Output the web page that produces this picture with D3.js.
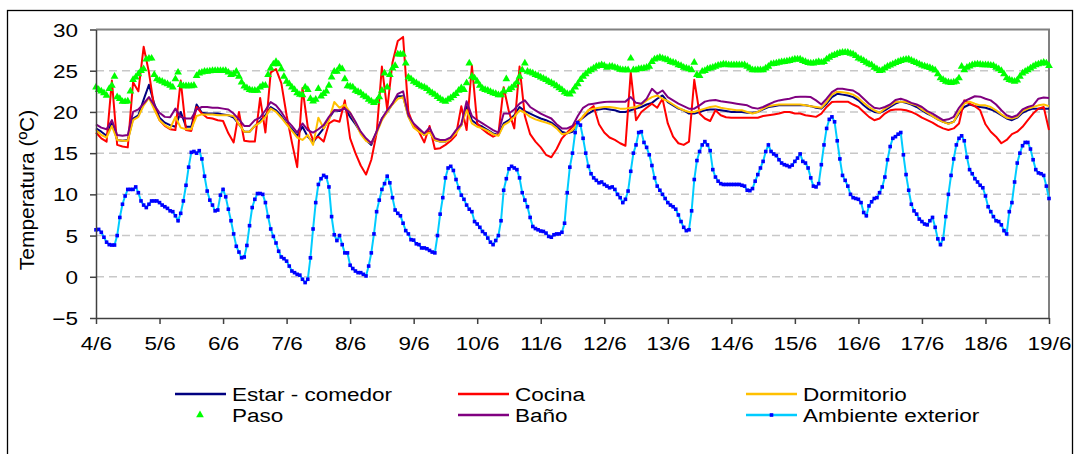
<!DOCTYPE html>
<html>
<head>
<meta charset="utf-8">
<script src="https://cdn.jsdelivr.net/npm/d3@7"></script>
<style>
  body { margin: 0; background: #fff; }
  text { font-family: "Liberation Sans", Arial, sans-serif; fill: #000; }
</style>
</head>
<body>
<svg id="chart" width="1075" height="454"></svg>
<script>
// tick labels
const dias = ["4/6", "5/6", "6/6", "7/6", "8/6", "9/6", "10/6", "11/6", "12/6",
              "13/6", "14/6", "15/6", "16/6", "17/6", "18/6", "19/6"];
const yTicks = [-5, 0, 5, 10, 15, 20, 25, 30];

// hours between readings
const pasoInterior = 2;
const pasoHorario = 1;

// interior rooms, every 2 h from 4/6 00:00
const estarComedor = [
  18.0,17.6,17.1,18.8,16.6,16.5,16.6,19.2,19.6,21.5,
  23.3,21.0,19.3,18.7,18.4,18.2,20.0,18.2,18.2,20.9,
  19.9,19.8,19.8,19.8,19.7,19.6,19.3,18.5,17.6,17.6,
  18.3,18.9,19.6,20.6,20.2,19.5,18.6,17.9,17.1,18.2,
  17.0,16.3,17.2,18.0,19.2,20.2,20.1,20.5,19.4,18.5,
  17.5,16.6,16.0,17.6,19.2,20.0,21.0,21.9,21.9,19.5,
  18.2,17.8,17.2,17.6,16.6,16.4,16.4,16.9,17.6,18.4,
  20.7,19.0,18.5,18.2,17.8,17.4,17.2,18.6,19.0,19.6,
  20.6,20.1,19.8,19.5,19.2,19.0,18.7,18.2,17.6,17.4,
  17.6,18.8,19.3,19.8,20.2,20.3,20.4,20.3,20.2,20.0,
  20.0,20.2,20.4,20.6,20.9,21.1,21.6,22.0,21.2,20.8,
  20.4,20.2,19.8,19.8,20.0,20.2,20.3,20.3,20.2,20.1,
  20.0,20.0,20.0,19.9,19.9,20.0,20.3,20.6,20.7,20.8,
  20.8,20.8,20.8,20.8,20.8,20.7,20.5,20.4,21.0,21.8,
  22.2,22.1,22.0,21.8,21.4,20.8,20.3,20.0,19.9,20.2,
  20.6,21.0,21.25,21.1,20.9,20.6,20.2,19.8,19.5,19.1,
  18.8,18.6,18.8,19.8,20.6,20.9,20.7,20.6,20.5,20.3,
  20.0,19.6,19.2,19.0,19.3,19.9,20.2,20.4,20.4,20.4,20.4
];
const cocina = [
  17.5,16.8,16.4,23.8,16.0,15.8,15.7,23.6,22.5,27.9,
  24.8,20.5,19.0,18.3,17.9,17.8,23.8,17.8,17.7,20.6,
  19.8,19.3,19.2,19.0,18.9,17.4,16.3,20.0,16.5,16.4,
  16.4,21.7,17.5,24.8,25.2,23.5,19.6,16.3,13.3,22.9,
  18.2,16.6,17.0,16.4,18.6,19.0,18.8,21.4,16.8,15.0,
  13.5,12.4,14.2,17.4,25.5,20.3,26.0,28.6,29.1,20.0,
  18.3,17.6,16.3,18.3,15.5,15.6,16.0,16.5,17.2,20.7,
  17.8,25.6,18.6,17.9,17.4,17.0,17.3,23.0,20.0,18.0,
  25.5,19.5,17.3,16.4,15.7,14.8,14.5,15.5,16.8,17.5,
  18.2,18.8,19.4,20.2,20.7,18.5,17.5,16.9,16.6,16.2,
  15.9,24.8,19.0,20.0,20.5,21.0,20.5,21.6,18.6,17.0,
  16.2,16.0,16.4,23.9,19.8,19.2,18.9,20.2,19.6,19.35,
  19.3,19.3,19.3,19.3,19.3,19.3,19.5,19.6,19.7,19.8,
  20.0,20.0,19.8,19.8,19.6,19.5,19.4,19.8,20.6,21.2,
  21.25,21.25,21.25,20.9,20.6,20.0,19.4,19.0,19.2,19.8,
  20.2,20.3,20.3,20.2,20.0,19.7,19.3,19.0,18.7,18.3,
  18.0,17.8,18.0,18.6,21.4,21.0,20.7,20.2,18.5,17.6,
  17.0,16.2,16.6,17.3,17.6,18.2,19.0,19.8,20.4,20.6,17.8
];
const dormitorio = [
  17.8,17.2,16.9,18.3,16.6,16.5,16.5,19.0,19.4,20.8,
  21.7,20.3,19.0,18.4,18.0,19.4,18.1,17.9,17.9,19.5,
  19.7,19.7,19.7,19.6,19.6,19.6,19.5,18.5,17.6,17.6,
  18.3,18.7,19.4,20.4,20.0,19.3,18.5,17.7,16.9,16.6,
  17.2,16.0,19.3,18.0,19.0,21.2,20.5,20.9,19.9,18.7,
  17.3,16.5,16.2,17.4,19.0,20.0,20.9,21.6,21.8,19.4,
  18.1,17.6,17.2,17.5,16.6,16.4,16.4,16.8,17.4,18.4,
  20.2,18.6,18.2,18.0,17.7,17.3,17.1,18.4,18.8,19.4,
  20.2,19.9,19.4,19.1,18.9,18.7,18.5,18.0,17.3,17.4,
  17.8,18.6,19.5,20.2,20.4,20.5,20.6,20.6,20.5,20.4,
  20.4,20.5,20.6,20.9,21.4,21.8,22.0,21.6,21.3,20.9,
  20.5,20.2,20.0,20.0,20.2,20.4,20.6,20.7,20.5,20.4,
  20.3,20.2,20.2,20.0,19.8,20.0,20.4,20.7,20.8,20.9,
  20.9,20.9,20.9,20.9,20.8,20.7,20.6,20.5,21.2,22.1,
  22.45,22.4,22.3,22.1,21.7,21.1,20.6,20.2,19.9,20.4,
  20.8,21.2,21.25,21.2,21.0,20.8,20.3,19.9,19.5,19.1,
  18.8,18.55,18.8,20.0,21.0,21.25,21.0,20.8,20.8,20.6,
  20.2,19.7,19.3,19.2,19.4,20.1,20.4,20.6,20.8,20.9,20.7
];
const bano = [
  18.5,18.1,17.9,19.0,17.2,17.1,17.2,20.0,20.3,21.0,
  21.8,20.8,19.9,19.4,19.35,20.4,19.4,19.2,19.2,20.3,
  20.6,20.6,20.5,20.5,20.4,20.3,19.8,19.1,18.3,18.3,
  19.0,19.3,20.2,21.2,20.8,20.0,19.0,18.3,17.5,18.6,
  17.8,17.5,17.9,18.4,19.4,20.2,20.2,20.4,19.9,18.8,
  17.6,16.8,16.2,17.6,19.2,20.2,21.0,22.2,22.5,19.6,
  18.6,18.0,17.4,18.1,16.8,16.6,16.6,16.9,17.8,18.5,
  21.3,19.5,19.0,18.6,18.2,17.8,17.5,19.8,19.8,20.3,
  21.0,21.4,20.6,20.2,19.8,19.5,19.2,18.5,18.0,18.0,
  18.3,19.5,20.5,20.9,21.0,21.1,21.2,21.25,21.25,21.25,
  21.25,21.8,21.1,21.0,21.6,22.8,22.2,22.6,21.8,21.4,
  21.0,20.7,20.4,20.4,20.8,21.25,21.4,21.45,21.3,21.2,
  21.1,21.0,20.9,20.8,20.5,20.4,20.6,20.9,21.2,21.4,
  21.5,21.6,21.8,21.85,21.85,21.8,21.4,20.9,21.6,22.4,
  22.8,22.8,22.7,22.6,22.2,21.6,21.0,20.5,20.4,20.6,
  20.9,21.45,21.6,21.4,21.1,20.9,20.6,20.1,19.8,19.4,
  19.0,19.1,19.4,20.5,21.3,21.6,21.9,21.85,21.6,21.4,
  20.9,20.2,19.6,19.35,19.6,20.3,20.6,20.8,21.6,21.75,21.7
];

// hourly readings
const paso = [
  23.0,22.7,22.5,22.3,22.0,22.8,23.2,24.3,21.8,21.6,
  21.25,21.25,21.3,22.5,23.9,24.2,24.6,25.0,25.2,26.4,
  26.5,26.5,24.5,24.0,23.8,23.7,23.5,23.4,23.2,23.0,
  24.0,24.8,23.3,23.15,23.15,23.15,23.15,23.2,24.4,24.7,
  24.8,24.9,24.9,24.95,25.0,25.0,25.0,25.0,25.0,25.0,
  24.8,24.5,24.6,24.9,24.3,23.6,23.1,22.9,22.7,22.6,
  22.6,22.6,23.0,23.2,23.2,24.5,25.3,25.8,26.1,25.8,
  25.2,24.3,23.7,23.4,23.0,22.7,22.3,22.1,22.05,23.0,
  22.7,21.6,21.3,21.5,22.8,21.9,22.2,22.5,23.2,24.2,
  24.9,24.9,25.4,25.2,24.0,23.15,23.1,23.0,22.6,22.45,
  22.3,22.0,21.8,21.5,21.3,21.1,21.3,21.8,22.6,24.7,
  23.0,24.5,25.3,25.6,27.0,27.0,27.0,25.9,24.2,24.0,
  23.7,23.5,23.3,23.1,23.0,22.8,22.5,22.3,22.1,21.85,
  21.6,21.4,21.25,21.5,21.7,21.95,22.2,22.6,22.9,22.7,
  23.5,25.9,24.3,24.1,23.7,23.2,22.85,22.7,22.6,22.45,
  22.3,22.2,22.05,22.05,22.5,24.0,22.7,22.9,23.2,23.6,
  24.3,25.1,25.9,24.9,24.8,24.7,24.5,24.4,24.2,24.05,
  23.9,23.7,23.55,23.35,23.15,22.9,22.7,22.4,22.2,22.15,
  22.5,23.0,23.4,23.9,24.3,24.6,24.9,25.1,25.3,25.5,
  25.6,25.7,25.6,25.4,25.5,25.5,25.4,25.3,25.15,25.1,
  25.1,25.1,26.5,25.1,25.1,25.2,25.25,25.3,25.4,25.5,
  26.1,26.4,26.5,26.6,26.5,26.4,26.3,26.1,26.0,25.9,
  25.7,25.6,25.4,25.3,25.2,25.1,26.0,24.5,24.4,24.9,
  25.0,25.2,25.3,25.4,25.5,25.65,25.7,25.8,25.75,25.7,
  25.7,25.7,25.7,25.7,25.7,25.7,25.5,25.3,25.1,25.1,
  25.1,25.1,25.1,25.3,25.5,25.8,25.85,25.9,26.0,26.05,
  26.1,26.15,26.2,26.3,26.4,26.4,26.4,26.2,26.1,25.95,
  25.9,25.9,26.0,26.1,26.0,26.1,26.4,26.6,26.8,26.9,
  27.05,27.15,27.2,27.2,27.2,27.1,27.0,26.8,26.5,26.4,
  26.2,26.0,25.8,25.7,25.4,25.2,25.0,25.05,25.3,25.5,
  25.65,25.8,25.95,26.1,26.2,26.3,26.35,26.4,26.25,26.1,
  25.95,25.8,25.65,25.55,25.45,25.35,25.2,25.05,24.6,24.1,
  23.9,23.7,23.6,23.55,23.6,23.7,24.1,25.5,25.1,25.4,
  25.55,25.7,25.75,25.8,25.75,25.7,25.7,25.7,25.65,25.6,
  25.4,25.2,25.0,24.6,24.1,23.9,23.8,23.7,23.85,24.3,
  24.7,24.9,25.1,25.3,25.5,25.7,25.8,25.9,26.0,25.9,25.6
];
const ambienteExterior = [
  5.7,5.75,5.4,4.8,4.2,3.9,3.85,3.85,5.0,7.2,
  8.8,9.8,10.6,10.6,10.6,10.9,10.2,9.2,8.7,8.4,
  8.8,9.2,9.2,9.2,9.0,8.7,8.5,8.3,8.0,7.9,
  7.4,6.8,7.7,9.2,11.1,13.3,15.1,15.2,15.0,15.3,
  14.3,12.2,10.4,9.3,8.7,8.0,8.1,9.9,10.6,9.7,
  8.2,6.8,5.2,3.7,3.0,2.3,2.4,3.8,6.2,8.4,
  9.4,10.1,10.1,10.0,9.0,7.3,5.8,4.9,4.1,3.1,
  2.4,2.2,1.9,1.3,0.7,0.5,0.3,0.2,-0.3,-0.7,
  -0.3,2.3,5.8,9.0,11.2,11.9,12.3,12.1,10.9,7.3,
  5.1,4.4,5.0,3.9,2.9,2.9,1.4,1.0,0.7,0.5,
  0.5,0.3,0.1,1.3,2.9,5.2,7.9,9.3,10.6,11.3,
  12.2,11.4,9.6,8.1,7.7,7.4,6.5,5.6,5.2,4.5,
  4.45,4.0,3.9,3.5,3.5,3.4,3.2,3.0,2.9,5.0,
  7.6,9.6,12.0,13.2,13.4,12.9,11.8,10.8,9.9,9.4,
  8.7,8.2,7.9,6.7,6.4,6.0,5.5,5.2,4.7,4.2,
  3.9,4.4,5.0,6.8,10.5,11.9,13.1,13.4,13.2,13.0,
  12.0,10.2,9.3,8.5,7.2,6.1,5.85,5.7,5.55,5.5,
  5.3,4.9,4.8,5.1,5.2,5.2,5.4,6.5,10.2,13.3,
  15.0,17.5,18.7,18.4,16.8,15.0,13.4,12.5,12.0,11.7,
  11.4,11.5,11.2,11.0,10.8,10.9,10.6,10.0,9.6,9.0,
  9.4,10.4,12.8,15.0,16.0,17.5,17.6,16.3,15.7,14.8,
  13.5,12.0,11.0,10.5,10.0,9.5,9.0,8.7,8.5,8.2,
  7.5,6.7,6.0,5.6,5.7,8.0,11.8,14.1,15.2,16.0,
  16.4,16.0,15.3,13.0,12.1,11.6,11.3,11.2,11.2,11.2,
  11.2,11.2,11.2,11.2,11.1,11.0,10.5,10.45,10.7,11.6,
  12.4,13.2,14.0,15.2,16.0,15.2,14.9,14.7,14.2,13.8,
  13.6,13.5,13.35,13.55,14.0,14.4,14.9,14.0,13.8,13.2,
  12.0,11.0,10.9,11.3,13.6,16.0,18.0,19.1,19.4,18.8,
  16.5,14.3,12.3,11.7,11.0,10.0,9.6,9.5,9.4,9.0,
  7.8,7.4,8.6,9.1,9.5,9.6,10.2,10.9,12.1,14.2,
  15.8,16.8,17.0,17.3,17.5,14.8,12.4,10.5,8.8,8.0,
  7.6,7.0,6.7,6.4,6.3,6.8,7.2,6.0,4.6,3.9,
  4.6,7.3,10.0,12.3,14.3,16.0,16.8,17.1,16.5,14.5,
  13.0,12.5,11.9,11.5,11.1,10.8,9.8,8.5,7.9,7.3,
  6.8,6.7,6.3,5.6,5.2,7.9,9.0,11.5,13.8,15.0,
  15.9,16.3,16.3,15.5,14.2,13.0,12.6,12.5,12.3,11.0,9.5
];

const svg = d3.select("#chart");
const stretch = 1.25;   // the picture's text is wider than tall

const x = d3.scaleLinear().domain([0, dias.length - 1]).range([96, 1049]);
const y = d3.scaleLinear().domain([-5, 30]).range([318, 29.5]);

function puntos(values, step) {
    return values.map((v, i) => ({ dia: i * step / 24, v: v }));
}

// outer frame (bottom edge is off the picture)
svg.append("rect").attr("x", 7.5).attr("y", 10.5).attr("width", 1065).attr("height", 470)
    .attr("fill", "none").attr("stroke", "#000").attr("stroke-width", 1.3);

// grid
svg.append("g").selectAll("line").data(yTicks.filter(t => t > -5 && t < 30)).enter()
    .append("line")
    .attr("x1", 96).attr("x2", 1049)
    .attr("y1", d => y(d)).attr("y2", d => y(d))
    .attr("stroke", "#c8c8c8").attr("stroke-width", 1.5).attr("stroke-dasharray", "8,5");

// top + right border of plot area
svg.append("path").attr("d", `M96,${y(30)}H${x(15)}V${y(-5)}`)
    .attr("fill", "none").attr("stroke", "#808080").attr("stroke-width", 2);

let line = d3.line().x(p => x(p.dia)).y(p => y(p.v));

let series = [
    { name: "Estar - comedor", data: estarComedor, step: pasoInterior, color: "#000080" },
    { name: "Cocina", data: cocina, step: pasoInterior, color: "#ff0000" },
    { name: "Dormitorio", data: dormitorio, step: pasoInterior, color: "#ffc000" }
];

series.forEach(s => {
    svg.append("path").datum(puntos(s.data, s.step)).attr("d", line)
        .attr("fill", "none").attr("stroke", s.color).attr("stroke-width", 2)
        .attr("stroke-linejoin", "round");
});

// Paso: markers only
let tri = d3.symbol().type(d3.symbolTriangle).size(26);
svg.append("g").selectAll("path").data(puntos(paso, pasoHorario)).enter()
    .append("path").attr("d", tri)
    .attr("transform", p => `translate(${x(p.dia)},${y(p.v)})`)
    .attr("fill", "#00ff00");

svg.append("path").datum(puntos(bano, pasoInterior)).attr("d", line)
    .attr("fill", "none").attr("stroke", "#800080").attr("stroke-width", 2)
    .attr("stroke-linejoin", "round");

// exterior: line + small squares
svg.append("path").datum(puntos(ambienteExterior, pasoHorario)).attr("d", line)
    .attr("fill", "none").attr("stroke", "#00ccff").attr("stroke-width", 2);
svg.append("g").selectAll("rect").data(puntos(ambienteExterior, pasoHorario)).enter()
    .append("rect")
    .attr("x", p => x(p.dia) - 1.8).attr("y", p => y(p.v) - 1.8)
    .attr("width", 3.6).attr("height", 3.6).attr("fill", "#0000ff");

// axes
let yAxis = svg.append("g").attr("transform", "translate(96,0)")
    .call(d3.axisLeft(y).tickValues(yTicks).tickSize(6).tickSizeOuter(0));
yAxis.select(".domain").attr("stroke", "#404040").attr("stroke-width", 1.5);
yAxis.selectAll(".tick line").attr("stroke", "#404040").attr("stroke-width", 1.5);
yAxis.selectAll("text")
    .attr("x", null).attr("dy", null)
    .attr("transform", `translate(-18,6.5) scale(${stretch},1)`)
    .attr("text-anchor", "end")
    .style("font-size", "18px").attr("font-family", null);

let xAxis = svg.append("g").attr("transform", `translate(0,${y(-5)})`)
    .call(d3.axisBottom(x).tickValues(d3.range(dias.length)).tickFormat(i => dias[i])
        .tickSize(6).tickSizeOuter(0));
xAxis.select(".domain").attr("stroke", "#404040").attr("stroke-width", 1.5);
xAxis.selectAll(".tick line").attr("stroke", "#404040").attr("stroke-width", 1.5);
xAxis.selectAll("text")
    .attr("y", null).attr("dy", null)
    .attr("transform", `translate(0,32) scale(${stretch},1)`)
    .style("font-size", "18px").attr("font-family", null);

// y title
svg.append("text")
    .attr("transform", "translate(34,190) rotate(-90)")
    .attr("text-anchor", "middle")
    .style("font-size", "21px")
    .text("Temperatura (ºC)");

// legend
let leyenda = [
    { name: "Estar - comedor", color: "#000080", kind: "line", lx: 175, ly: 394 },
    { name: "Cocina", color: "#ff0000", kind: "line", lx: 458, ly: 394 },
    { name: "Dormitorio", color: "#ffc000", kind: "line", lx: 746, ly: 394 },
    { name: "Paso", color: "#00ff00", kind: "tri", lx: 175, ly: 415 },
    { name: "Baño", color: "#800080", kind: "line", lx: 458, ly: 415 },
    { name: "Ambiente exterior", color: "#00ccff", kind: "both", lx: 746, ly: 415 }
];
leyenda.forEach(l => {
    let g = svg.append("g").attr("transform", `translate(${l.lx},${l.ly})`);
    if (l.kind !== "tri") {
        g.append("line").attr("x1", 0).attr("x2", 51).attr("y1", 0).attr("y2", 0)
            .attr("stroke", l.color).attr("stroke-width", 2.5);
    }
    if (l.kind === "tri") {
        g.append("path").attr("d", tri).attr("transform", "translate(25,0)").attr("fill", l.color);
    }
    if (l.kind === "both") {
        g.append("rect").attr("x", 23.7).attr("y", -1.8).attr("width", 3.6).attr("height", 3.6)
            .attr("fill", "#0000ff");
    }
    g.append("text").attr("transform", `translate(57,6.5) scale(${stretch},1)`)
        .style("font-size", "18px").text(l.name);
});
</script>
</body>
</html>
